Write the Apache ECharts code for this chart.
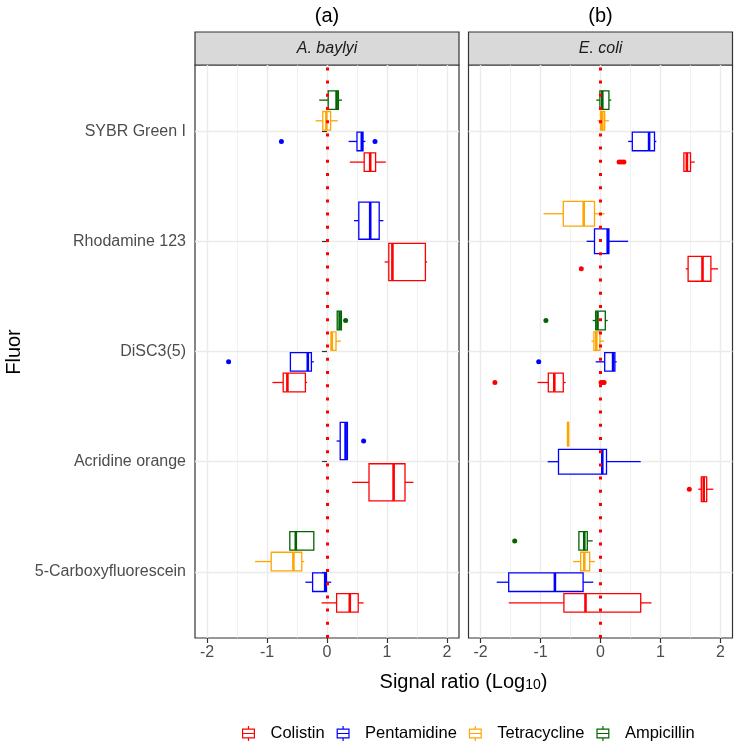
<!DOCTYPE html>
<html>
<head>
<meta charset="utf-8">
<script src="https://cdn.jsdelivr.net/npm/echarts@6/dist/echarts.min.js"></script>
<style>html,body{margin:0;padding:0;background:#fff}#chart{width:735px;height:746px}</style>
</head>
<body>
<div id="chart"></div>
<script>
// ── Fluor signal ratios, faceted boxplots ──

// fluors listed top to bottom, as on the chart
const fluors = ['SYBR Green I', 'Rhodamine 123', 'DiSC3(5)', 'Acridine orange', '5-Carboxyfluorescein'];
const drugs = ['Colistin', 'Pentamidine', 'Tetracycline', 'Ampicillin'];
const drugColors = ['#FF0000', '#0000FF', '#FFA500', '#006400'];
const species = ['A. baylyi', 'E. coli'];
const panelTags = ['(a)', '(b)'];
const xTicks = [-2, -1, 0, 1, 2];
const xMinorTicks = [-1.5, -0.5, 0.5, 1.5];

// [fluor, drug, lower whisker, q1, median, q3, upper whisker]
const boxesBaylyi = [
  ['SYBR Green I', 'Ampicillin', -0.13, 0.02, 0.16, 0.19, 0.25],
  ['SYBR Green I', 'Tetracycline', -0.19, -0.07, -0.01, 0.06, 0.18],
  ['SYBR Green I', 'Pentamidine', 0.36, 0.50, 0.58, 0.60, 0.64],
  ['SYBR Green I', 'Colistin', 0.38, 0.62, 0.72, 0.81, 0.98],
  ['Rhodamine 123', 'Pentamidine', 0.45, 0.53, 0.72, 0.87, 0.94],
  ['Rhodamine 123', 'Colistin', 0.96, 1.03, 1.09, 1.64, 1.67],
  ['DiSC3(5)', 'Ampicillin', 0.17, 0.17, 0.21, 0.24, 0.24],
  ['DiSC3(5)', 'Tetracycline', 0.07, 0.07, 0.08, 0.15, 0.23],
  ['DiSC3(5)', 'Pentamidine', -0.61, -0.61, -0.32, -0.26, -0.22],
  ['DiSC3(5)', 'Colistin', -0.91, -0.73, -0.66, -0.36, -0.33],
  ['Acridine orange', 'Pentamidine', 0.16, 0.22, 0.31, 0.34, 0.34],
  ['Acridine orange', 'Colistin', 0.42, 0.70, 1.11, 1.30, 1.44],
  ['5-Carboxyfluorescein', 'Ampicillin', -0.62, -0.62, -0.52, -0.22, -0.22],
  ['5-Carboxyfluorescein', 'Tetracycline', -1.20, -0.93, -0.56, -0.42, -0.38],
  ['5-Carboxyfluorescein', 'Pentamidine', -0.36, -0.24, -0.03, -0.01, 0.07],
  ['5-Carboxyfluorescein', 'Colistin', -0.09, 0.16, 0.38, 0.52, 0.61]
];
// [fluor, drug, value]
const outliersBaylyi = [
  ['SYBR Green I', 'Pentamidine', -0.76],
  ['SYBR Green I', 'Pentamidine', 0.80],
  ['DiSC3(5)', 'Ampicillin', 0.31],
  ['DiSC3(5)', 'Pentamidine', -1.64],
  ['Acridine orange', 'Pentamidine', 0.61]
];

const boxesEcoli = [
  ['SYBR Green I', 'Ampicillin', -0.07, -0.01, 0.03, 0.14, 0.18],
  ['SYBR Green I', 'Tetracycline', -0.05, 0.0, 0.03, 0.07, 0.14],
  ['SYBR Green I', 'Pentamidine', 0.46, 0.53, 0.81, 0.90, 0.93],
  ['SYBR Green I', 'Colistin', 1.39, 1.39, 1.44, 1.50, 1.57],
  ['Rhodamine 123', 'Tetracycline', -0.95, -0.62, -0.28, -0.10, 0.07],
  ['Rhodamine 123', 'Pentamidine', -0.23, -0.10, 0.12, 0.14, 0.46],
  ['Rhodamine 123', 'Colistin', 1.42, 1.46, 1.70, 1.84, 1.96],
  ['DiSC3(5)', 'Ampicillin', -0.13, -0.08, -0.05, 0.08, 0.12],
  ['DiSC3(5)', 'Tetracycline', -0.15, -0.11, -0.07, -0.01, 0.06],
  ['DiSC3(5)', 'Pentamidine', -0.08, 0.07, 0.21, 0.24, 0.27],
  ['DiSC3(5)', 'Colistin', -1.05, -0.87, -0.77, -0.62, -0.58],
  ['Acridine orange', 'Tetracycline', -0.54, -0.54, -0.54, -0.54, -0.54],
  ['Acridine orange', 'Pentamidine', -0.88, -0.70, 0.03, 0.10, 0.67],
  ['Acridine orange', 'Colistin', 1.63, 1.68, 1.72, 1.77, 1.88],
  ['5-Carboxyfluorescein', 'Ampicillin', -0.37, -0.36, -0.27, -0.22, -0.13],
  ['5-Carboxyfluorescein', 'Tetracycline', -0.46, -0.33, -0.27, -0.18, -0.09],
  ['5-Carboxyfluorescein', 'Pentamidine', -1.73, -1.53, -0.76, -0.29, -0.12],
  ['5-Carboxyfluorescein', 'Colistin', -1.53, -0.61, -0.25, 0.67, 0.85]
];
const outliersEcoli = [
  ['SYBR Green I', 'Colistin', 0.31],
  ['SYBR Green I', 'Colistin', 0.35],
  ['SYBR Green I', 'Colistin', 0.39],
  ['Rhodamine 123', 'Colistin', -0.32],
  ['DiSC3(5)', 'Ampicillin', -0.91],
  ['DiSC3(5)', 'Pentamidine', -1.03],
  ['DiSC3(5)', 'Colistin', -1.76],
  ['DiSC3(5)', 'Colistin', 0.01],
  ['DiSC3(5)', 'Colistin', 0.04],
  ['DiSC3(5)', 'Colistin', 0.06],
  ['Acridine orange', 'Colistin', 1.48],
  ['5-Carboxyfluorescein', 'Ampicillin', -1.43]
];

const FONT = "'Liberation Sans', Arial, sans-serif";
const panelBoxes = [boxesBaylyi, boxesEcoli];
const panelOutliers = [outliersBaylyi, outliersEcoli];
const panelLeft = [195, 468.5];
const PW = 264, PTOP = 65, PH = 573;

const nF = fluors.length;
const yOf = f => nF - fluors.indexOf(f);

// dodge like ggplot: 0.75 wide per fluor, split over the drugs present, 10% padding
function dodge(boxes) {
  const pos = {};
  fluors.forEach(f => {
    const present = drugs.filter(d => boxes.some(b => b[0] === f && b[1] === d));
    const slot = 0.75 / present.length;
    present.forEach((d, k) => {
      pos[f + '|' + d] = { y: yOf(f) - 0.375 + (k + 0.5) * slot, half: slot * 0.9 / 2 };
    });
  });
  return pos;
}

function renderBox(color) {
  return function (params, api) {
    const y = api.value(0), h = api.value(6);
    const c = v => api.coord([v, y]);
    const lo = c(api.value(1)), q1 = c(api.value(2)), md = c(api.value(3)), q3 = c(api.value(4)), hi = c(api.value(5));
    const yt = api.coord([0, y + h])[1], yb = api.coord([0, y - h])[1];
    const ls = { stroke: color, lineWidth: 1.3, fill: null };
    return {
      type: 'group',
      children: [
        { type: 'line', shape: { x1: lo[0], y1: lo[1], x2: q1[0], y2: q1[1] }, style: ls },
        { type: 'line', shape: { x1: q3[0], y1: q3[1], x2: hi[0], y2: hi[1] }, style: ls },
        { type: 'rect', shape: { x: q1[0], y: yt, width: q3[0] - q1[0], height: yb - yt }, style: { fill: '#fff', stroke: color, lineWidth: 1.3 } },
        { type: 'line', shape: { x1: md[0], y1: yt, x2: md[0], y2: yb }, style: { stroke: color, lineWidth: 2.6 } }
      ]
    };
  };
}

const series = [];
panelBoxes.forEach((boxes, p) => {
  const pos = dodge(boxes);
  drugs.forEach((d, i) => {
    const rows = boxes.filter(b => b[1] === d).map(b => {
      const ps = pos[b[0] + '|' + d];
      return [ps.y, b[2], b[3], b[4], b[5], b[6], ps.half];
    });
    series.push({
      type: 'custom', name: d, xAxisIndex: p * 2, yAxisIndex: p, z: 2,
      renderItem: renderBox(drugColors[i]),
      encode: { x: [1, 2, 3, 4, 5], y: 0 },
      itemStyle: { color: drugColors[i] },
      data: rows
    });
    const pts = panelOutliers[p].filter(o => o[1] === d).map(o => [o[2], pos[o[0] + '|' + d].y]);
    series.push({
      type: 'scatter', name: d, xAxisIndex: p * 2, yAxisIndex: p, z: 3,
      symbolSize: 5, itemStyle: { color: drugColors[i], opacity: 1 },
      data: pts
    });
  });
  // red dotted reference line at zero
  series.push({
    type: 'scatter', xAxisIndex: p * 2, yAxisIndex: p, z: 5, data: [], silent: true,
    markLine: {
      silent: true, symbol: 'none', animation: false, label: { show: false },
      lineStyle: { color: '#FF0000', width: 3, type: [3, 10.2], cap: 'butt' },
      emphasis: { disabled: true },
      data: [{ xAxis: 0 }]
    }
  });
});

const grids = panelLeft.map(l => ({ left: l, top: PTOP, width: PW, height: PH, show: true, borderColor: '#333', borderWidth: 1.2, backgroundColor: '#fff', containLabel: false }));

const xAxes = [];
panelLeft.forEach((l, p) => {
  xAxes.push({
    type: 'value', gridIndex: p, min: -2.2, max: 2.2, position: 'bottom',
    axisLine: { show: false },
    axisTick: { show: true, length: 5, lineStyle: { color: '#333', width: 1.2 }, customValues: xTicks },
    axisLabel: { show: true, customValues: xTicks, margin: 7, fontSize: 16, color: '#4D4D4D', fontFamily: FONT },
    splitLine: { show: true, lineStyle: { color: '#EBEBEB', width: 1.4 } }
  });
  xAxes.push({
    type: 'value', gridIndex: p, min: -2.2, max: 2.2, position: 'top',
    axisLine: { show: false },
    axisTick: { show: false, customValues: xMinorTicks },
    axisLabel: { show: false },
    splitLine: { show: true, lineStyle: { color: '#EBEBEB', width: 0.7 } }
  });
});

const yTicks = fluors.map(f => yOf(f));
const yAxes = panelLeft.map((l, p) => ({
  type: 'value', gridIndex: p, min: 0.4, max: 5.6,
  axisLine: { show: false },
  axisTick: { show: p === 0, length: 5, lineStyle: { color: '#333', width: 1.2 }, customValues: yTicks },
  axisLabel: {
    show: p === 0, customValues: yTicks, margin: 9, fontSize: 16, color: '#4D4D4D', fontFamily: FONT,
    formatter: v => fluors[nF - Math.round(v)]
  },
  splitLine: { show: true, lineStyle: { color: '#EBEBEB', width: 1.4 } }
}));

const graphics = [];
panelLeft.forEach((l, p) => {
  graphics.push({
    type: 'text', x: l + PW / 2, y: 16.5, silent: true,
    style: { text: panelTags[p], font: '20px ' + FONT, fill: '#000', textAlign: 'center', textVerticalAlign: 'middle', align: 'center', verticalAlign: 'middle' }
  });
  graphics.push({
    type: 'rect', shape: { x: l, y: 32, width: PW, height: PTOP - 32 }, silent: true,
    style: { fill: '#D9D9D9', stroke: '#333', lineWidth: 1.2 }
  });
  graphics.push({
    type: 'text', x: l + PW / 2, y: 48.5, silent: true,
    style: { text: species[p], font: 'italic 16px ' + FONT, fill: '#1A1A1A', textAlign: 'center', textVerticalAlign: 'middle', align: 'center', verticalAlign: 'middle' }
  });
});
graphics.push({
  type: 'text', x: 463.5, y: 680, silent: true,
  style: {
    text: '{a|Signal ratio (Log}{s|10}{a|)}', textAlign: 'center', textVerticalAlign: 'middle', align: 'center', verticalAlign: 'middle',
    rich: {
      a: { fontSize: 20, fontFamily: FONT, fill: '#000', color: '#000', lineHeight: 24, verticalAlign: 'bottom' },
      s: { fontSize: 14, fontFamily: FONT, fill: '#000', color: '#000', lineHeight: 24, verticalAlign: 'bottom', padding: [6, 0, 0, 0] }
    }
  }
});
graphics.push({
  type: 'text', x: 14, y: 352, rotation: Math.PI / 2, silent: true,
  style: { text: 'Fluor', font: '20px ' + FONT, fill: '#000', textAlign: 'center', textVerticalAlign: 'middle', align: 'center', verticalAlign: 'middle' }
});

const boxIcon = 'path://M6,0V3M0.5,3H11.5V11H0.5ZM0.5,7H11.5M6,11V14';

const chart = echarts.init(document.getElementById('chart'), null, { renderer: 'canvas' });
chart.setOption({
  animation: false,
  backgroundColor: '#fff',
  grid: grids,
  xAxis: xAxes,
  yAxis: yAxes,
  legend: {
    left: 242, top: 725, padding: 0, itemGap: 12, itemWidth: 34, itemHeight: 15,
    selectedMode: false,
    textStyle: { fontSize: 16.5, color: '#000', fontFamily: FONT },
    data: drugs.map((d, i) => ({
      name: d, icon: boxIcon,
      itemStyle: { color: 'rgba(0,0,0,0)', borderColor: drugColors[i], borderWidth: 1.2 }
    }))
  },
  graphic: graphics,
  series: series
});
</script>
</body>
</html>
